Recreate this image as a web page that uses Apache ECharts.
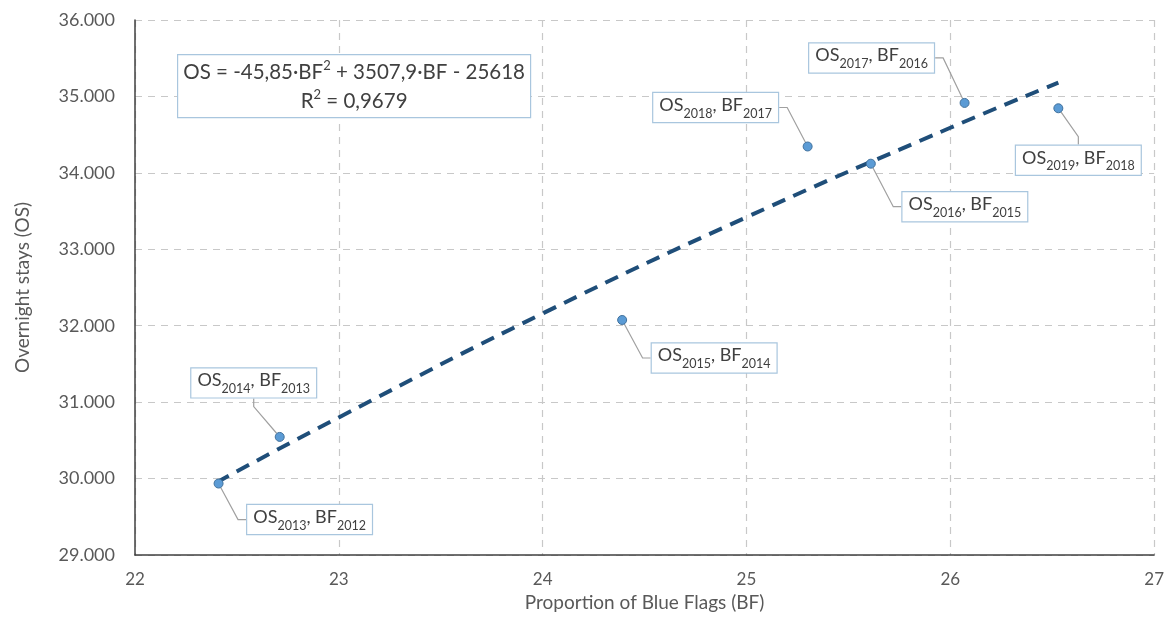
<!DOCTYPE html>
<html>
<head>
<meta charset="utf-8">
<script src="https://cdn.jsdelivr.net/npm/echarts@6/dist/echarts.min.js"></script>
<style>
html,body{margin:0;padding:0;background:#fff;}
#chart{width:1167px;height:631px;}
</style>
</head>
<body>
<div id="chart"></div>
<script>
// ---- data ----
const bfValues = [22.41, 22.71, 24.39, 25.61, 25.30, 26.07, 26.53];
const osValues = [29935, 30545, 32075, 34120, 34345, 34915, 34845];
const osYears  = ['2013', '2014', '2015', '2016', '2018', '2017', '2019'];
const bfYears  = ['2012', '2013', '2014', '2015', '2017', '2016', '2018'];
// polynomial trend line
const trendBF = [22.40, 23.0, 24.0, 25.0, 26.0, 26.53];
const trendOS = [29950, 30800, 32160, 33420, 34590, 35180];
const xTicks = [22, 23, 24, 25, 26, 27];
const yTicks = [29000, 30000, 31000, 32000, 33000, 34000, 35000, 36000];
const eqLine1 = 'OS = -45,85·BF{sup|2} + 3507,9·BF - 25618';
const eqLine2 = 'R{sup|2} = 0,9679';

// label offsets (pixels) from each point
const labelShift = [[91, 36], [-26, -54], [92, 38], [94, 43], [-92, -39], [-93, -45], [20, 52]];

const FONT = 'Lato';
const TXT = '#404040';
const BOX = '#a9c6de';
const chart = echarts.init(document.getElementById('chart'));

const scatterData = bfValues.map((b, i) => ({
  value: [b, osValues[i]],
  label: {
    formatter: '{n|OS}{s|' + osYears[i] + '}{n|, BF}{s|' + bfYears[i] + '}'
  }
}));

const supStyle = { fontSize: 13, fontFamily: FONT, fill: TXT, verticalAlign: 'top', lineHeight: 26 };

const option = {
  animation: false,
  textStyle: { fontFamily: FONT },
  grid: { left: 135, right: 11, top: 20, bottom: 76 },
  xAxis: {
    type: 'value',
    min: xTicks[0], max: xTicks[xTicks.length - 1], interval: 1,
    name: 'Proportion of Blue Flags (BF)',
    nameLocation: 'middle', nameGap: 21,
    nameTextStyle: { fontSize: 19, color: '#595959', fontFamily: FONT },
    axisLine: { show: true, onZero: false, lineStyle: { color: '#404040', width: 1.5 } },
    axisTick: { show: false },
    axisLabel: { fontSize: 17, color: '#595959', margin: 16, fontFamily: FONT },
    splitLine: { show: true, lineStyle: { color: '#c8c8c8', type: [7, 6], width: 1.2 } }
  },
  yAxis: {
    type: 'value',
    min: yTicks[0], max: yTicks[yTicks.length - 1], interval: 1000,
    name: 'Overnight stays (OS)',
    nameLocation: 'middle', nameGap: 103, nameRotate: 90,
    nameTextStyle: { fontSize: 19, color: '#595959', fontFamily: FONT },
    axisLine: { show: true, onZero: false, lineStyle: { color: '#404040', width: 1.5 } },
    axisTick: { show: false },
    axisLabel: {
      fontSize: 18, color: '#595959', margin: 20, fontFamily: FONT,
      formatter: v => (v / 1000).toFixed(3)
    },
    splitLine: { show: true, lineStyle: { color: '#c8c8c8', type: [7, 6], width: 1.2 } }
  },
  series: [
    {
      type: 'line',
      data: trendBF.map((b, i) => [b, trendOS[i]]),
      smooth: true,
      symbol: 'none',
      lineStyle: { color: '#1f4e79', width: 4, type: [14, 9] },
      z: 2
    },
    {
      type: 'scatter',
      data: scatterData,
      symbolSize: 9,
      itemStyle: { color: '#5b9bd5', borderColor: '#41719c', borderWidth: 1, opacity: 1 },
      z: 3,
      label: {
        show: true,
        position: 'inside',
        backgroundColor: '#ffffff',
        borderColor: BOX,
        borderWidth: 1.2,
        padding: [3, 6, 2, 6],
        rich: {
          n: { fontSize: 18, color: TXT, fontFamily: FONT, lineHeight: 24, verticalAlign: 'top' },
          s: { fontSize: 12.5, color: TXT, fontFamily: FONT, lineHeight: 12, verticalAlign: 'bottom' }
        }
      },
      labelLayout: function (params) {
        const s = labelShift[params.dataIndex];
        return { dx: s[0], dy: s[1], hideOverlap: false };
      },
      labelLine: {
        show: true,
        length2: 8,
        lineStyle: { color: '#a0a0a0', width: 1.2 }
      }
    }
  ],
  graphic: [
    {
      type: 'group',
      left: 177, top: 54,
      z: 100,
      children: [
        {
          type: 'rect', z: 100,
          shape: { x: 0, y: 0, width: 353, height: 63 },
          style: { fill: '#ffffff', stroke: BOX, lineWidth: 1.2 }
        },
        {
          type: 'text', z: 101,
          x: 176.5, y: 18,
          style: {
            text: eqLine1, align: 'center', verticalAlign: 'middle',
            fontFamily: FONT, fontSize: 20.5, fill: TXT,
            rich: { sup: supStyle }
          }
        },
        {
          type: 'text', z: 101,
          x: 176.5, y: 47,
          style: {
            text: eqLine2, align: 'center', verticalAlign: 'middle',
            fontFamily: FONT, fontSize: 20.5, fill: TXT,
            rich: { sup: supStyle }
          }
        }
      ]
    }
  ]
};
chart.setOption(option);
</script>
</body>
</html>
